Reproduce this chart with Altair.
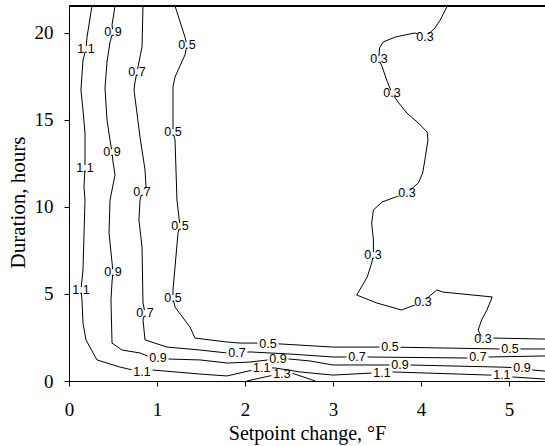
import altair as alt
import pandas as pd

# ---- contour polylines (x = setpoint change, °F ; y = duration, hours) ----
c03_x = [4.30, 4.22, 4.16, 4.05, 3.93, 3.71, 3.57, 3.53, 3.52, 3.56, 3.61, 3.67, 3.74, 3.84, 3.97, 4.07, 4.08, 4.05, 4.02, 3.97, 3.84, 3.71, 3.56, 3.46, 3.44, 3.46, 3.46, 3.44, 3.39, 3.27, 3.50, 3.78, 4.02, 4.18, 4.25, 4.81, 4.75, 4.69, 4.65, 4.70, 4.82, 5.41]
c03_y = [21.55, 20.75, 20.29, 19.77, 20.0, 19.77, 19.48, 19.14, 18.51, 18.05, 17.30, 16.55, 16.03, 15.40, 14.83, 14.31, 13.85, 12.87, 11.95, 11.38, 10.80, 10.57, 10.29, 9.83, 9.08, 8.10, 7.24, 6.78, 5.98, 4.94, 4.48, 4.08, 4.54, 5.23, 5.11, 4.83, 4.08, 3.51, 2.93, 2.41, 2.47, 2.41]

c05_x = [1.205, 1.318, 1.341, 1.318, 1.205, 1.182, 1.182, 1.182, 1.205, 1.227, 1.261, 1.239, 1.205, 1.182, 1.182, 1.205, 1.375, 1.432, 1.602, 1.795, 1.943, 2.148, 2.261, 2.398, 3.0, 3.648, 4.898, 5.011, 5.41]
c05_y = [21.55, 19.77, 19.31, 18.74, 17.47, 16.90, 14.83, 14.31, 13.85, 10.40, 8.91, 8.51, 6.55, 5.23, 4.77, 4.25, 3.10, 2.47, 2.36, 2.24, 2.18, 2.18, 2.13, 2.13, 1.95, 1.95, 1.84, 1.84, 1.84]

c07_x = [0.841, 0.830, 0.773, 0.75, 0.739, 0.807, 0.864, 0.875, 0.83, 0.807, 0.795, 0.83, 0.841, 0.864, 0.841, 0.864, 1.114, 1.489, 1.795, 1.909, 2.057, 2.284, 2.511, 3.0, 3.273, 3.398, 4.523, 4.648, 4.784, 5.41]
c07_y = [21.55, 19.20, 17.76, 17.18, 16.72, 14.02, 12.13, 11.15, 10.86, 10.40, 9.25, 7.70, 4.48, 3.91, 3.51, 2.36, 1.95, 1.78, 1.61, 1.61, 1.67, 1.61, 1.55, 1.38, 1.38, 1.38, 1.32, 1.38, 1.38, 1.44]

c09_x = [0.523, 0.489, 0.5, 0.466, 0.432, 0.409, 0.432, 0.466, 0.489, 0.5, 0.523, 0.466, 0.455, 0.5, 0.489, 0.477, 0.489, 0.602, 0.807, 0.92, 1.011, 1.148, 1.489, 1.807, 2.057, 2.261, 2.375, 2.511, 2.739, 3.0, 3.614, 3.761, 3.875, 4.898, 5.148, 5.273, 5.41]
c09_y = [21.55, 20.46, 20.06, 19.48, 18.33, 16.84, 15.0, 13.85, 13.16, 12.59, 11.84, 10.40, 8.51, 6.26, 5.69, 4.66, 2.18, 1.78, 1.61, 1.38, 1.32, 1.26, 1.21, 1.03, 1.09, 1.21, 1.26, 1.26, 1.15, 0.92, 0.92, 0.92, 0.92, 0.80, 0.75, 0.63, 0.57]

c11_x = [0.261, 0.205, 0.193, 0.159, 0.136, 0.159, 0.182, 0.182, 0.170, 0.182, 0.159, 0.136, 0.148, 0.159, 0.193, 0.318, 0.58, 0.727, 0.83, 0.955, 1.489, 1.795, 2.09, 2.19, 2.34, 2.625, 3.0, 3.455, 3.557, 3.67, 4.784, 4.92, 5.045, 5.41]
c11_y = [21.55, 19.77, 19.08, 18.45, 16.72, 15.57, 14.25, 12.24, 11.15, 10.40, 6.38, 5.23, 4.66, 3.33, 2.36, 1.21, 0.80, 0.63, 0.52, 0.63, 0.40, 0.29, 0.63, 0.75, 0.75, 0.52, 0.34, 0.46, 0.46, 0.52, 0.34, 0.34, 0.23, 0.11]

c13_x = [2.02, 2.28, 2.42, 2.53, 2.80]
c13_y = [0.0, 0.29, 0.40, 0.46, 0.0]

# ---- inline contour labels ----
lab_text = (["0.3"] * 7 + ["0.5"] * 7 + ["0.7"] * 6 + ["0.9"] * 7 + ["1.1"] * 7 + ["1.3"])
lab_x = [4.045, 3.523, 3.670, 3.841, 3.455, 4.023, 4.705,
         1.341, 1.182, 1.261, 1.182, 2.261, 3.648, 5.011,
         0.773, 0.83, 0.864, 1.909, 3.273, 4.648,
         0.5, 0.489, 0.5, 1.011, 2.375, 3.761, 5.148,
         0.193, 0.182, 0.136, 0.83, 2.19, 3.557, 4.92,
         2.42]
lab_y = [19.77, 18.51, 16.55, 10.80, 7.24, 4.54, 2.41,
         19.31, 14.31, 8.91, 4.77, 2.13, 1.95, 1.84,
         17.76, 10.86, 3.91, 1.61, 1.38, 1.38,
         20.06, 13.16, 6.26, 1.32, 1.26, 0.92, 0.75,
         19.08, 12.24, 5.23, 0.52, 0.75, 0.46, 0.34,
         0.40]

x_ticks = [0, 1, 2, 3, 4, 5]
y_ticks = [0, 5, 10, 15, 20]
X_MAX, Y_MAX = 5.41, 21.55

rows = []
for lvl, xs, ys in [("0.3", c03_x, c03_y), ("0.5", c05_x, c05_y), ("0.7", c07_x, c07_y),
                    ("0.9", c09_x, c09_y), ("1.1", c11_x, c11_y), ("1.3", c13_x, c13_y)]:
    for i, (xv, yv) in enumerate(zip(xs, ys)):
        rows.append({"level": lvl, "x": xv, "y": yv, "i": i})
lines_df = pd.DataFrame(rows)
labels_df = pd.DataFrame({"x": lab_x, "y": lab_y, "t": lab_text})

xs = alt.Scale(domain=[0, X_MAX], nice=False, zero=False)
ys = alt.Scale(domain=[0, Y_MAX], nice=False, zero=False)

xaxis = alt.Axis(values=x_ticks, format="d", title="Setpoint change, °F", grid=False,
                 labelFont="Liberation Serif", labelFontSize=19, labelColor="black",
                 labelBaseline="middle", labelPadding=23, tickSize=5, tickColor="black",
                 domainColor="black", titleFont="Liberation Serif", titleFontSize=20,
                 titleFontWeight="normal", titleColor="black", titleBaseline="middle",
                 titleY=52, labelFlush=False)
yaxis = alt.Axis(values=y_ticks, format="d", title="Duration, hours", grid=False,
                 labelFont="Liberation Serif", labelFontSize=19, labelColor="black",
                 labelPadding=11, tickSize=5, tickColor="black", domainColor="black",
                 titleFont="Liberation Serif", titleFontSize=21, titleFontWeight="normal",
                 titleColor="black", titleAngle=-90, titleAlign="center",
                 titleBaseline="middle", titleX=-51, titleY=196, labelFlush=False)

lines = alt.Chart(lines_df).mark_line(color="black", strokeWidth=1).encode(
    x=alt.X("x:Q", scale=xs, axis=xaxis),
    y=alt.Y("y:Q", scale=ys, axis=yaxis),
    detail="level:N",
    order="i:Q",
)

boxes = alt.Chart(labels_df).mark_point(
    shape="M-1,-0.27H1V0.27H-1Z", filled=True, color="white", opacity=1, size=441, strokeWidth=0
).encode(x=alt.X("x:Q", scale=xs), y=alt.Y("y:Q", scale=ys))

texts = alt.Chart(labels_df).mark_text(
    font="Liberation Sans", fontSize=12.5, fill="black", align="center", baseline="middle"
).encode(x=alt.X("x:Q", scale=xs), y=alt.Y("y:Q", scale=ys), text="t:N")

top = alt.Chart(labels_df).mark_rule(color="black", strokeWidth=1.2).encode(
    x=alt.value(0), x2=alt.value(476), y=alt.value(0)
)

chart = alt.layer(lines, boxes, texts, top).properties(
    width=476, height=375,
    autosize=alt.AutoSizeParams(type="none"),
    padding={"left": 69, "top": 6, "right": 0, "bottom": 65},
).configure_view(stroke=None).configure(background="white")

chart.save("out.html", embed_options={"renderer": "svg", "actions": False})
